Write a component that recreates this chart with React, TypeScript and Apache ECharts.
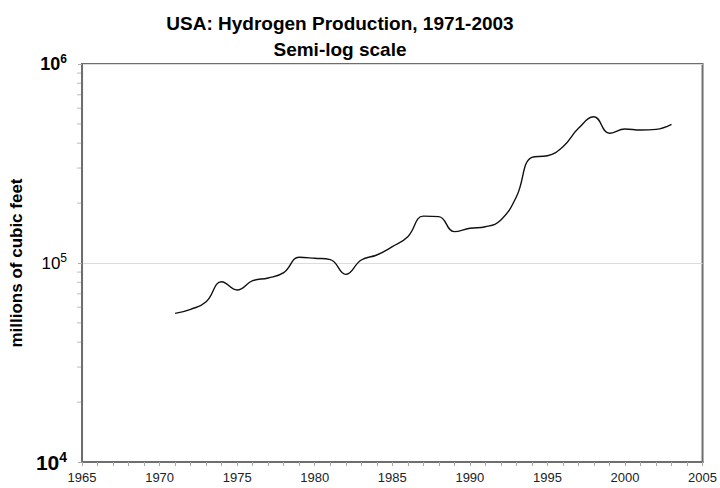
import React, { useEffect, useRef } from "react";
import * as echarts from "echarts";

const years = [1971,1972,1973,1974,1975,1976,1977,1978,1979,1980,1981,1982,1983,1984,1985,1986,1987,1988,1989,1990,1991,1992,1993,1994,1995,1996,1997,1998,1999,2000,2001,2002,2003];
const production = [55800,58500,63900,80500,73200,81500,84100,89400,106800,105600,104000,87700,103500,109700,120800,135600,172000,171000,143700,149400,152100,164400,215300,339700,346000,384000,475000,543000,448500,471500,465600,469500,497700];
const minorTickValues = [20000,30000,40000,50000,60000,70000,80000,90000,200000,300000,400000,500000,600000,700000,800000,900000];
const titleText = "USA: Hydrogen Production, 1971-2003\nSemi-log scale";
const yAxisName = "millions of cubic feet";

const FONT = "'Liberation Sans', Arial, sans-serif";

export default function App() {
  const ref = useRef<HTMLDivElement>(null);
  useEffect(() => {
    const chart = echarts.init(ref.current!, null, { renderer: "svg" });
    chart.setOption({
      animation: false,
      backgroundColor: "#fff",
      title: {
        text: titleText,
        left: 335,
        top: 5,
        textAlign: "center",
        textStyle: { fontFamily: FONT, fontSize: 19, fontWeight: "bold", color: "#000", lineHeight: 26 },
      },
      grid: {
        left: 82, right: 17, top: 64, bottom: 26,
        show: true, borderColor: "#6e6e6e", borderWidth: 2, backgroundColor: "#fff",
      },
      xAxis: {
        type: "value", min: 1965, max: 2005, interval: 5,
        axisLine: { show: true, lineStyle: { color: "#6e6e6e", width: 2 } },
        axisTick: { show: true, length: 4, lineStyle: { color: "#aaa" } },
        minorTick: { show: true, splitNumber: 5, length: 4, lineStyle: { color: "#aaa" } },
        splitLine: { show: false },
        axisLabel: { fontFamily: FONT, fontSize: 13, color: "#222", margin: 9, formatter: (v: number) => String(v) },
      },
      yAxis: {
        type: "log", logBase: 10, min: 10000, max: 1000000,
        name: yAxisName, nameLocation: "middle", nameGap: 53,
        nameTextStyle: { fontFamily: FONT, fontSize: 17, fontWeight: "bold", color: "#000" },
        axisLine: { show: true, lineStyle: { color: "#6e6e6e", width: 2 } },
        axisTick: { show: true, length: 4, lineStyle: { color: "#aaa" } },
        splitLine: { show: true, lineStyle: { color: "#dcdcdc", width: 1 } },
        axisLabel: {
          margin: 15,
          formatter: (v: number) => {
            const e = Math.round(Math.log10(v));
            if (e === 5) return "{r|10}{rs|" + e + "}";
            if (e === 4) return "{b4|10}{bs4|" + e + "}";
            return "{b|10}{bs|" + e + "}";
          },
          rich: {
            b: { fontFamily: FONT, fontSize: 18, fontWeight: "bold", color: "#000", lineHeight: 22 },
            bs: { fontFamily: FONT, fontSize: 12, fontWeight: "bold", color: "#000", verticalAlign: "top", lineHeight: 12 },
            b4: { fontFamily: FONT, fontSize: 21, fontWeight: "bold", color: "#000", lineHeight: 24 },
            bs4: { fontFamily: FONT, fontSize: 14, fontWeight: "bold", color: "#000", verticalAlign: "top", lineHeight: 14 },
            r: { fontFamily: FONT, fontSize: 17, color: "#000", lineHeight: 22 },
            rs: { fontFamily: FONT, fontSize: 12, color: "#000", verticalAlign: "top", lineHeight: 12 },
          },
        },
      },
      series: [
        {
          type: "line",
          data: years.map((y, i) => [y, production[i]]),
          smooth: 0.45,
          showSymbol: false,
          lineStyle: { color: "#111", width: 1.4 },
        },
        {
          type: "custom",
          silent: true,
          clip: false,
          data: minorTickValues.map((v) => [1965, v]),
          renderItem: (params: any, api: any) => {
            const p = api.coord([api.value(0), api.value(1)]);
            return {
              type: "line",
              shape: { x1: p[0] - 5, y1: p[1], x2: p[0] - 1, y2: p[1] },
              style: { stroke: "#bbb", lineWidth: 1 },
            };
          },
        },
      ],
    });
    return () => chart.dispose();
  }, []);
  return <div ref={ref} style={{ width: 720, height: 488, position: "absolute", left: 0, top: 0 }} />;
}
